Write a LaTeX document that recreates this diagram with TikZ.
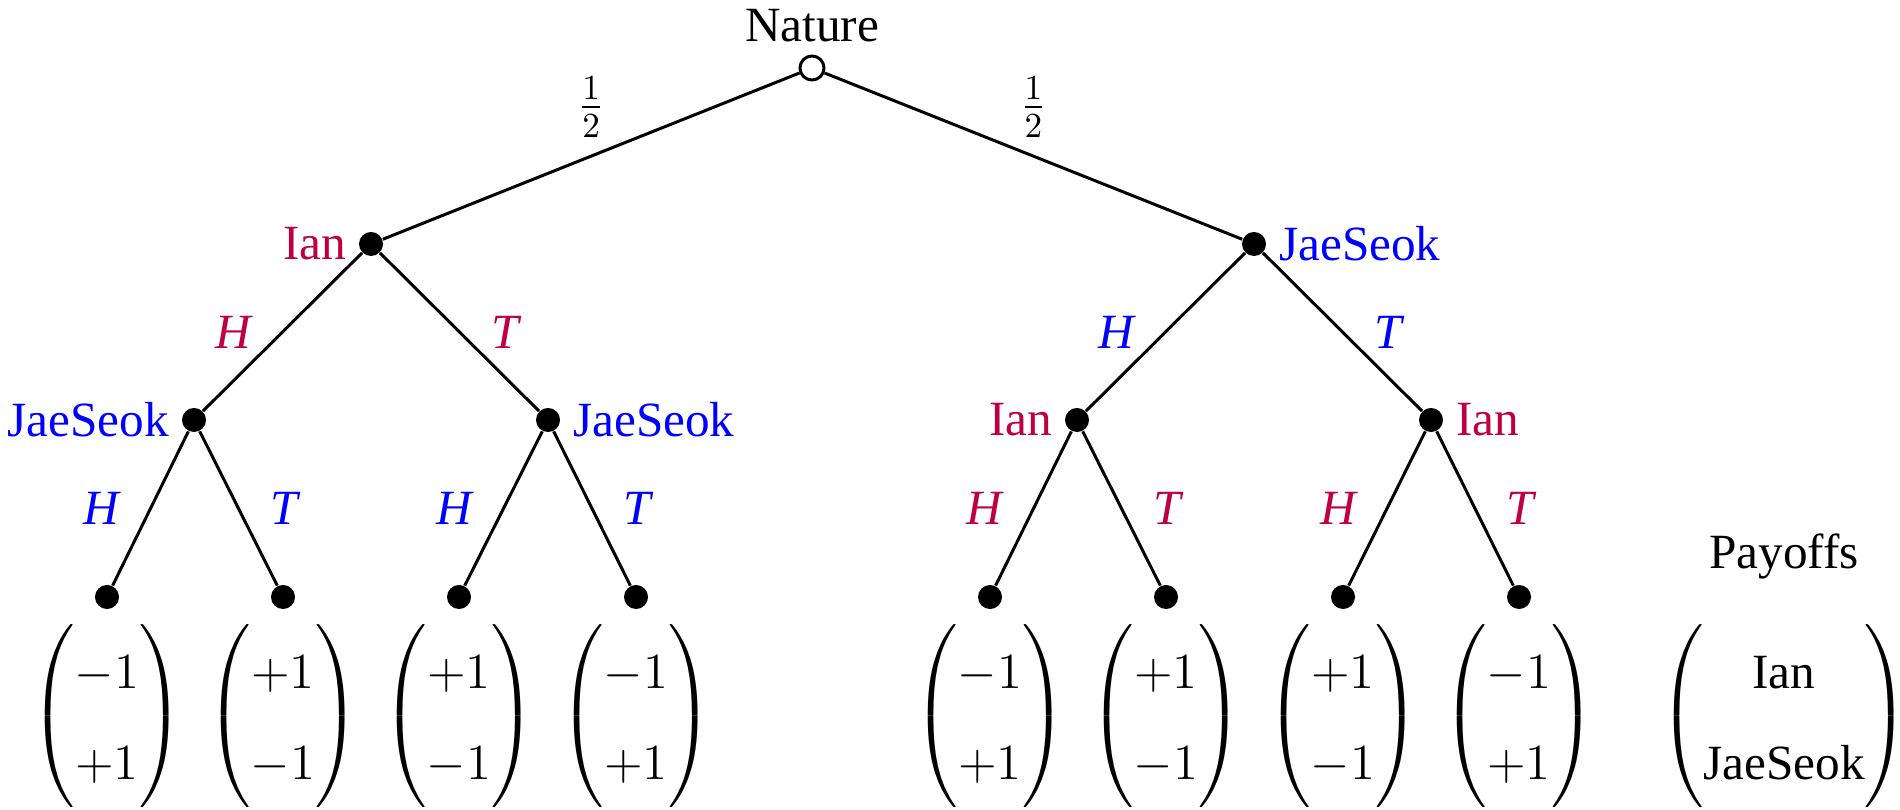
\documentclass[tikz,border=0pt]{standalone}
\usepackage{exscale}
\usepackage[no-math]{fontspec}
\setmainfont{Liberation Serif}
\definecolor{ianc}{rgb}{0.75,0,0.25}
\definecolor{jaec}{rgb}{0,0,1}
\newcommand{\payvec}[2]{$\renewcommand{\arraystretch}{1.52}\left(\begin{array}{@{}c@{}}#1\\#2\end{array}\right)$}
\begin{document}
\begin{tikzpicture}[x=0.01cm,y=-0.01cm,
  every node/.style={font=\fontsize{14}{17}\selectfont},
  dec/.style={circle,fill=black,inner sep=0pt,minimum size=0.24cm},
  chance/.style={circle,draw=black,fill=white,line width=0.85pt,inner sep=0pt,minimum size=0.24cm},
  branch/.style={line width=0.85pt},
  lftlab/.style={midway,xshift=-0.48cm},
  rgtlab/.style={midway,xshift=0.47cm},
  problab/.style={midway,yshift=0.49cm},
  payoff/.style={inner sep=0pt}]
\useasboundingbox (0,0) rectangle (1900,810);
% nodes
\node[chance,label={above:Nature}] (root) at (812,68) {};
\node[dec,label={[ianc]left:Ian}] (a) at (371,244) {};
\node[dec,label={[jaec]right:JaeSeok}] (b) at (1254,244) {};
\node[dec,label={[jaec]left:JaeSeok}] (aa) at (194,420) {};
\node[dec,label={[jaec]right:JaeSeok}] (ab) at (548,420) {};
\node[dec,label={[ianc]left:Ian}] (ba) at (1077,420) {};
\node[dec,label={[ianc]right:Ian}] (bb) at (1431,420) {};
\node[dec] (l1) at (107,597) {};
\node[dec] (l2) at (283,597) {};
\node[dec] (l3) at (459,597) {};
\node[dec] (l4) at (636,597) {};
\node[dec] (l5) at (990,597) {};
\node[dec] (l6) at (1166,597) {};
\node[dec] (l7) at (1343,597) {};
\node[dec] (l8) at (1519,597) {};
% edges
\draw[branch] (root) -- (a) node[problab] {$\frac{1}{2}$};
\draw[branch] (root) -- (b) node[problab] {$\frac{1}{2}$};
\draw[branch] (a) -- (aa) node[lftlab,ianc] {\textit{H}};
\draw[branch] (a) -- (ab) node[rgtlab,ianc] {\textit{T}};
\draw[branch] (b) -- (ba) node[lftlab,jaec] {\textit{H}};
\draw[branch] (b) -- (bb) node[rgtlab,jaec] {\textit{T}};
\draw[branch] (aa) -- (l1) node[lftlab,jaec] {\textit{H}};
\draw[branch] (aa) -- (l2) node[rgtlab,jaec] {\textit{T}};
\draw[branch] (ab) -- (l3) node[lftlab,jaec] {\textit{H}};
\draw[branch] (ab) -- (l4) node[rgtlab,jaec] {\textit{T}};
\draw[branch] (ba) -- (l5) node[lftlab,ianc] {\textit{H}};
\draw[branch] (ba) -- (l6) node[rgtlab,ianc] {\textit{T}};
\draw[branch] (bb) -- (l7) node[lftlab,ianc] {\textit{H}};
\draw[branch] (bb) -- (l8) node[rgtlab,ianc] {\textit{T}};
% payoffs
\node[payoff] (p1) at (107,716) {\payvec{-1}{+1}};
\node[payoff] (p2) at (283,716) {\payvec{+1}{-1}};
\node[payoff] (p3) at (459,716) {\payvec{+1}{-1}};
\node[payoff] (p4) at (636,716) {\payvec{-1}{+1}};
\node[payoff] (p5) at (990,716) {\payvec{-1}{+1}};
\node[payoff] (p6) at (1166,716) {\payvec{+1}{-1}};
\node[payoff] (p7) at (1343,716) {\payvec{+1}{-1}};
\node[payoff] (p8) at (1519,716) {\payvec{-1}{+1}};
\node[anchor=base] (paytitle) at (1784,569) {Payoffs};
\node[payoff] (legend) at (1784,716) {\payvec{\mbox{Ian}}{\mbox{JaeSeok}}};
\end{tikzpicture}
\end{document}
